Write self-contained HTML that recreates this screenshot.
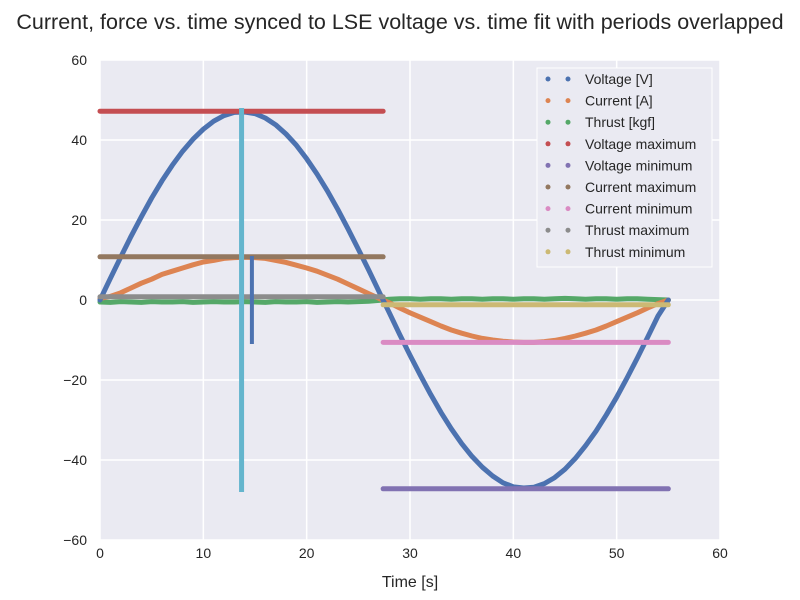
<!DOCTYPE html>
<html><head><meta charset="utf-8"><style>
body{margin:0;background:#fff;}
svg{display:block;font-family:"Liberation Sans",sans-serif;}
</style></head><body>
<svg id="chart" width="800" height="600" xmlns="http://www.w3.org/2000/svg">
<text x="400" y="29" text-anchor="middle" font-size="21.5" fill="#262626">Current, force vs. time synced to LSE voltage vs. time fit with periods overlapped</text>
<rect x="100" y="60" width="620" height="480" fill="#EAEAF2"/>
<g id="grid"></g>
<g id="series"></g>
<g id="ticks"></g>
<text x="410" y="587" text-anchor="middle" font-size="16" fill="#262626">Time [s]</text>
<g id="legend"></g>
</svg>
<script>
const tValues=[0,1,2,3,4,5,6,7,8,9,10,11,12,13,14,15,16,17,18,19,20,21,22,23,24,25,26,27,28,29,30,31,32,33,34,35,36,37,38,39,40,41,42,43,44,45,46,47,48,49,50,51,52,53,54,55];
const voltage=[0,5.4,10.7,15.9,20.8,25.5,29.8,33.7,37.2,40.2,42.7,44.7,46.1,46.9,47.0,46.6,45.5,43.8,41.5,38.7,35.3,31.5,27.3,22.7,17.8,12.7,7.5,2.1,-3.2,-8.6,-13.8,-18.8,-23.6,-28.1,-32.2,-35.9,-39.1,-41.8,-44.0,-45.7,-46.7,-47.0,-46.8,-45.9,-44.4,-42.3,-39.6,-36.4,-32.8,-28.7,-24.3,-19.5,-14.5,-9.3,-4.0,0];
const current=[0.4,0.9,1.8,3.0,4.2,5.2,6.4,7.2,8.0,8.8,9.5,9.9,10.4,10.6,10.7,10.6,10.4,9.9,9.4,8.7,8.0,7.2,6.2,5.2,4.0,2.8,1.6,0.4,-0.7,-2.0,-3.2,-4.3,-5.4,-6.5,-7.5,-8.3,-9.0,-9.6,-10.0,-10.3,-10.5,-10.6,-10.6,-10.4,-10.1,-9.6,-9.0,-8.3,-7.5,-6.5,-5.4,-4.3,-3.2,-2.0,-0.9,0];
const thrust=[-0.5,-0.6,-0.4,-0.5,-0.6,-0.4,-0.5,-0.5,-0.4,-0.6,-0.5,-0.4,-0.5,-0.5,-0.4,-0.5,-0.6,-0.4,-0.5,-0.5,-0.4,-0.6,-0.5,-0.4,-0.5,-0.4,-0.3,-0.1,0.2,0.3,0.3,0.2,0.3,0.3,0.2,0.3,0.3,0.2,0.3,0.3,0.2,0.3,0.3,0.2,0.3,0.4,0.3,0.2,0.3,0.3,0.2,0.3,0.3,0.2,0.1,0];
const hLines=[{name:"voltage-maximum",y:47.2,x0:0,x1:27.4,c:"#C44E52"},{name:"voltage-minimum",y:-47.2,x0:27.4,x1:55,c:"#8172B2"},{name:"current-maximum",y:10.8,x0:0,x1:27.4,c:"#937860"},{name:"current-minimum",y:-10.6,x0:27.4,x1:55,c:"#DA8BC3"},{name:"thrust-maximum",y:0.8,x0:0,x1:27.4,c:"#8C8C8C"},{name:"thrust-minimum",y:-1.2,x0:27.4,x1:55,c:"#CCB974"}];
const vLines=[{name:"voltage-peak-marker",x:13.7,y0:-48,y1:48,c:"#64B5CD",w:5},{name:"current-peak-marker",x:14.7,y0:-11,y1:11,c:"#4C72B0",w:4}];
const xTicks=[0,10,20,30,40,50,60];
const yTicks=[60,40,20,0,-20,-40,-60];
const legendLabels=["Voltage [V]","Current [A]","Thrust [kgf]","Voltage maximum","Voltage minimum","Current maximum","Current minimum","Thrust maximum","Thrust minimum"];
const legendColors=["#4C72B0","#DD8452","#55A868","#C44E52","#8172B2","#937860","#DA8BC3","#8C8C8C","#CCB974"];

const NS="http://www.w3.org/2000/svg";
const X=v=>100+v*620/60, Y=v=>300-v*4;
function mk(p,tag,a){const e=document.createElementNS(NS,tag);for(const k in a)e.setAttribute(k,a[k]);p.appendChild(e);return e;}
const grid=document.getElementById('grid'),ser=document.getElementById('series'),tk=document.getElementById('ticks'),lg=document.getElementById('legend');
xTicks.forEach(v=>{const l=mk(grid,'line',{x1:X(v),x2:X(v),y1:60,y2:540,stroke:'#fff','stroke-width':1.5});


const t=mk(tk,'text',{x:X(v),y:558,'text-anchor':'middle','font-size':14,fill:'#262626'});t.textContent=v;

});
yTicks.forEach(v=>{const l=mk(grid,'line',{x1:100,x2:720,y1:Y(v),y2:Y(v),stroke:'#fff','stroke-width':1.5});


const t=mk(tk,'text',{x:87,y:Y(v)+5,'text-anchor':'end','font-size':14,fill:'#262626'});t.textContent=v<0?'\u2212'+(-v):v;

});
function series(vals,c,w,name){const pts=tValues.map((t,i)=>X(t)+','+Y(vals[i])).join(' ');
const p=mk(ser,'polyline',{points:pts,fill:'none',stroke:c,'stroke-width':w,'stroke-linejoin':'round','stroke-linecap':'round'});

}
series(thrust,'#55A868',5,'thrust-series');
series(current,'#DD8452',5,'current-series');
series(voltage,'#4C72B0',5,'voltage-series');
hLines.forEach(h=>{const l=mk(ser,'line',{x1:X(h.x0),x2:X(h.x1),y1:Y(h.y),y2:Y(h.y),stroke:h.c,'stroke-width':5,'stroke-linecap':'round'});

});
vLines.forEach(h=>{const l=mk(ser,'line',{x1:X(h.x),x2:X(h.x),y1:Y(h.y0),y2:Y(h.y1),stroke:h.c,'stroke-width':h.w});

});
const box=mk(lg,'rect',{x:537,y:68,width:175,height:199,fill:'#EAEAF2',stroke:'#fff','stroke-width':1});


legendLabels.forEach((s,i)=>{const y=79+i*21.6;const g=mk(lg,'g',{});


mk(g,'circle',{cx:548,cy:y,r:2.5,fill:legendColors[i]});mk(g,'circle',{cx:568,cy:y,r:2.5,fill:legendColors[i]});
const t=mk(g,'text',{x:585,y:y+5,'font-size':14,fill:'#262626'});t.textContent=s;});
</script>
</body></html>
